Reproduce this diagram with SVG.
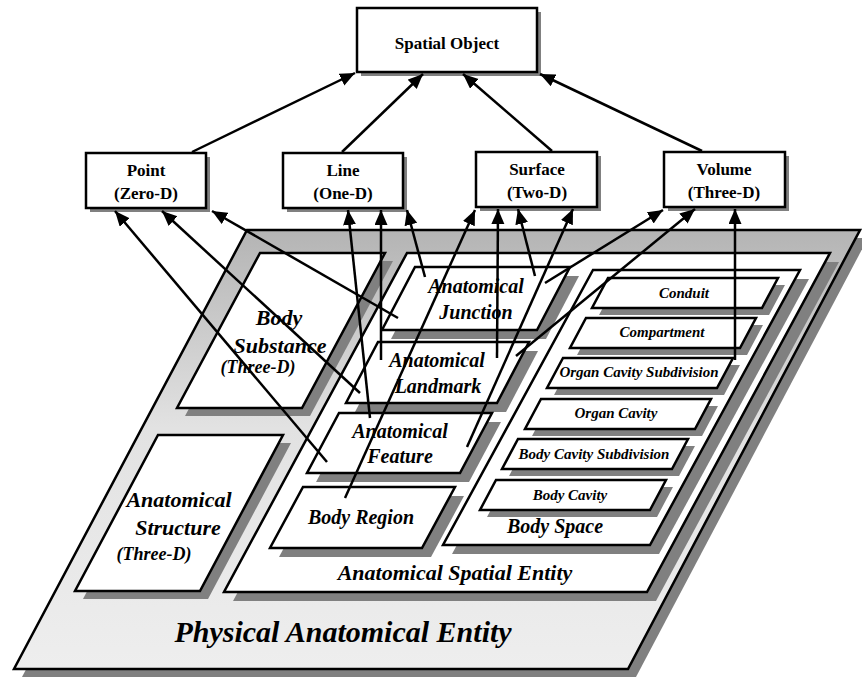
<svg xmlns="http://www.w3.org/2000/svg" width="862" height="677" viewBox="0 0 862 677">
  <defs>
    <linearGradient id="panelFill" x1="0" y1="0" x2="0" y2="1">
      <stop offset="0" stop-color="#b4b4b4"/>
      <stop offset="0.45" stop-color="#e2e2e2"/>
      <stop offset="1" stop-color="#eeeeee"/>
    </linearGradient>
    <marker id="arrow" markerUnits="userSpaceOnUse" markerWidth="16" markerHeight="14" refX="15" refY="6.5" orient="auto">
      <path d="M0,0 L15,6.5 L0,13 z" fill="#000"/>
    </marker>
  </defs>
  <style>
    .shade { fill: #808080; stroke: none; }
    .plate { fill: #ffffff; stroke: #000; stroke-width: 2.5; stroke-linejoin: miter; }
    .box { fill: #ffffff; stroke: #000; stroke-width: 2.5; }
    .top { font-family: "Liberation Serif", "Times New Roman", serif; font-weight: bold; font-size: 17px; text-anchor: middle; fill: #000; }
    .lab { font-family: "Liberation Serif", "Times New Roman", serif; font-weight: bold; font-style: italic; text-anchor: middle; fill: #000; }
    .big { font-size: 22px; }
    .mid { font-size: 20px; }
    .sub { font-size: 18px; }
    .sm { font-size: 15px; }
    .wide { font-size: 22px; }
    .huge { font-size: 30px; }
    .conn line { stroke: #000; stroke-width: 2.5; marker-end: url(#arrow); }
  </style>

  <rect width="862" height="677" fill="#ffffff"/>

  <!-- outer plate -->
  <g id="physical-anatomical-entity">
    <polygon class="shade" points="255,238 868,238 636,677 22,677"/>
    <polygon points="247,230 860,230 628,669 14,669" fill="url(#panelFill)" stroke="#000" stroke-width="2.5"/>
    <text class="lab huge" x="343" y="642">Physical Anatomical Entity</text>
  </g>

  <g id="body-substance">
    <polygon class="shade" points="268,261 393,261 310,416 185,416"/>
    <polygon class="plate" points="260,253 385,253 302,408 177,408"/>
    <text class="lab big" x="279" y="325">Body</text>
    <text class="lab big" x="280" y="353">Substance</text>
    <text class="lab sub" x="258" y="373">(Three-D)</text>
  </g>

  <g id="anatomical-structure">
    <polygon class="shade" points="166,443 291,443 208,599 83,599"/>
    <polygon class="plate" points="158,435 283,435 200,591 75,591"/>
    <text class="lab big" x="179" y="507">Anatomical</text>
    <text class="lab big" x="178" y="535">Structure</text>
    <text class="lab sub" x="154" y="560">(Three-D)</text>
  </g>

  <g id="anatomical-spatial-entity">
    <polygon class="shade" points="416,262 839,262 656,601 233,601"/>
    <polygon class="plate" points="407,253 830,253 647,592 224,592"/>
    <text class="lab wide" x="455" y="580">Anatomical Spatial Entity</text>
  </g>

  <g id="anatomical-junction">
    <polygon class="shade" points="424,276 579,276 546,339 391,339"/>
    <polygon class="plate" points="415,267 570,267 537,330 382,330"/>
    <text class="lab mid" x="476" y="293">Anatomical</text>
    <text class="lab mid" x="476" y="319">Junction</text>
  </g>

  <g id="anatomical-landmark">
    <polygon class="shade" points="387,351 538,351 506,412 355,412"/>
    <polygon class="plate" points="378,342 529,342 497,403 346,403"/>
    <text class="lab mid" x="437" y="367">Anatomical</text>
    <text class="lab mid" x="438" y="393">Landmark</text>
  </g>

  <g id="anatomical-feature">
    <polygon class="shade" points="348,422 501,422 469,482 316,482"/>
    <polygon class="plate" points="339,413 492,413 460,473 307,473"/>
    <text class="lab mid" x="400" y="438">Anatomical</text>
    <text class="lab mid" x="400" y="463">Feature</text>
  </g>

  <g id="body-region">
    <polygon class="shade" points="312,496 464,496 431,557 279,557"/>
    <polygon class="plate" points="303,487 455,487 422,548 270,548"/>
    <text class="lab mid" x="361" y="524">Body Region</text>
  </g>

  <g id="body-space">
    <polygon class="shade" points="602,279 809,279 659,554 452,554"/>
    <polygon class="plate" points="593,270 800,270 650,545 443,545"/>
    <text class="lab mid" x="555" y="533">Body Space</text>
  </g>

  <g id="conduit">
    <polygon class="shade" points="615,285 785,285 769,315 599,315"/>
    <polygon class="plate" points="608,278 778,278 762,308 592,308"/>
    <text class="lab sm" x="684" y="298">Conduit</text>
  </g>

  <g id="compartment">
    <polygon class="shade" points="593,325 763,325 747,355 577,355"/>
    <polygon class="plate" points="586,318 756,318 740,348 570,348"/>
    <text class="lab sm" x="662" y="337">Compartment</text>
  </g>

  <g id="organ-cavity-subdivision">
    <polygon class="shade" points="570,365 740,365 724,395 554,395"/>
    <polygon class="plate" points="563,358 733,358 717,388 547,388"/>
    <text class="lab sm" x="639" y="377">Organ Cavity Subdivision</text>
  </g>

  <g id="organ-cavity">
    <polygon class="shade" points="548,406 718,406 702,436 532,436"/>
    <polygon class="plate" points="541,399 711,399 695,429 525,429"/>
    <text class="lab sm" x="616" y="418">Organ Cavity</text>
  </g>

  <g id="body-cavity-subdivision">
    <polygon class="shade" points="525,446 695,446 679,476 509,476"/>
    <polygon class="plate" points="518,439 688,439 672,469 502,469"/>
    <text class="lab sm" x="594" y="459">Body Cavity Subdivision</text>
  </g>

  <g id="body-cavity">
    <polygon class="shade" points="503,487 673,487 657,517 487,517"/>
    <polygon class="plate" points="496,480 666,480 650,510 480,510"/>
    <text class="lab sm" x="570" y="500">Body Cavity</text>
  </g>

  <!-- dimension classes -->
  <g id="spatial-object">
    <rect class="shade" x="361" y="12" width="180" height="64"/>
    <rect class="box" x="357" y="8" width="180" height="64"/>
    <text class="top" x="447" y="49">Spatial Object</text>
  </g>

  <g id="point">
    <rect class="shade" x="90" y="157" width="120" height="55"/>
    <rect class="box" x="86" y="153" width="120" height="55"/>
    <text class="top" x="146" y="176">Point</text>
    <text class="top" x="146" y="199">(Zero-D)</text>
  </g>

  <g id="line">
    <rect class="shade" x="287" y="157" width="120" height="55"/>
    <rect class="box" x="283" y="153" width="120" height="55"/>
    <text class="top" x="343" y="176">Line</text>
    <text class="top" x="343" y="199">(One-D)</text>
  </g>

  <g id="surface">
    <rect class="shade" x="480" y="156" width="121" height="55"/>
    <rect class="box" x="476" y="152" width="121" height="55"/>
    <text class="top" x="537" y="175">Surface</text>
    <text class="top" x="537" y="198">(Two-D)</text>
  </g>

  <g id="volume">
    <rect class="shade" x="668" y="156" width="121" height="55"/>
    <rect class="box" x="664" y="152" width="121" height="55"/>
    <text class="top" x="724" y="175">Volume</text>
    <text class="top" x="724" y="198">(Three-D)</text>
  </g>

  <!-- is-a / dimension links -->
  <g id="connectors" class="conn">
    <line x1="192" y1="152" x2="355" y2="73"/>
    <line x1="342" y1="152" x2="423" y2="74"/>
    <line x1="552" y1="151" x2="463" y2="74"/>
    <line x1="702" y1="151" x2="540" y2="74"/>

    <line x1="327" y1="462" x2="115" y2="211"/>
    <line x1="360" y1="393" x2="162" y2="211"/>
    <line x1="398" y1="318" x2="212" y2="211"/>

    <line x1="370" y1="418" x2="348" y2="210"/>
    <line x1="381" y1="360" x2="381" y2="210"/>
    <line x1="425" y1="277" x2="407" y2="210"/>

    <line x1="345" y1="498" x2="475" y2="210"/>
    <line x1="497" y1="358" x2="498" y2="209"/>
    <line x1="535" y1="276" x2="518" y2="209"/>
    <line x1="467" y1="447" x2="573" y2="209"/>

    <line x1="545" y1="283" x2="663" y2="210"/>
    <line x1="516" y1="356" x2="695" y2="209"/>
    <line x1="735" y1="360" x2="735" y2="209"/>
  </g>
</svg>
